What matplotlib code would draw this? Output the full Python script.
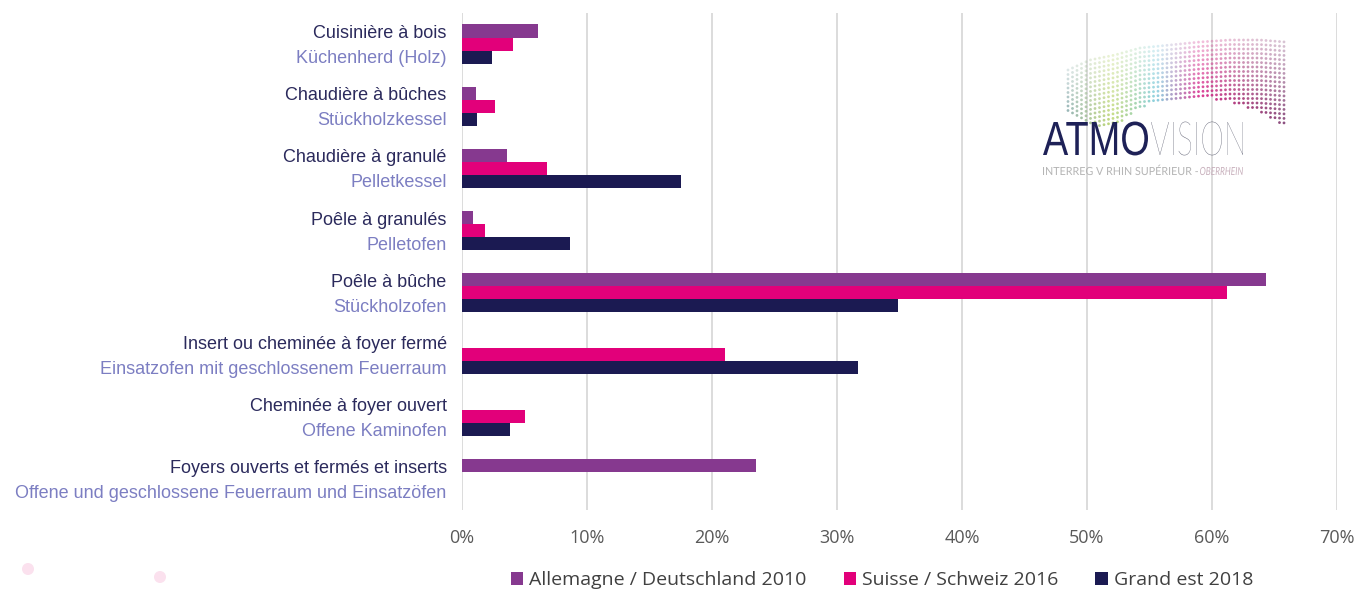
import numpy as np
import matplotlib
matplotlib.use("Agg")
import matplotlib.pyplot as plt
from matplotlib.colors import LinearSegmentedColormap
from matplotlib.textpath import TextPath
from matplotlib.patches import PathPatch, Circle
from matplotlib.font_manager import FontProperties
from matplotlib.transforms import Affine2D

# data
labels_fr = ["Cuisinière à bois", "Chaudière à bûches", "Chaudière à granulé",
             "Poêle à granulés", "Poêle à bûche",
             "Insert ou cheminée à foyer fermé", "Cheminée à foyer ouvert",
             "Foyers ouverts et fermés et inserts"]
labels_de = ["Küchenherd (Holz)", "Stückholzkessel", "Pelletkessel",
             "Pelletofen", "Stückholzofen",
             "Einsatzofen mit geschlossenem Feuerraum", "Offene Kaminofen",
             "Offene und geschlossene Feuerraum und Einsatzöfen"]
series_names = ["Allemagne / Deutschland 2010", "Suisse / Schweiz 2016", "Grand est 2018"]
allemagne = [6.1, 1.1, 3.6, 0.9, 64.3, 0.0, 0.0, 23.5]
suisse = [4.1, 2.6, 6.8, 1.8, 61.2, 21.0, 5.0, 0.0]
grand_est = [2.4, 1.2, 17.5, 8.6, 34.9, 31.7, 3.8, 0.0]
xticks = [0, 10, 20, 30, 40, 50, 60, 70]

colors = ["#86398F", "#E2007A", "#1B1A52"]
fr_color = "#2B2A5C"
de_color = "#7C7EC2"

W, H = 1372, 590
fig = plt.figure(figsize=(W / 100, H / 100), dpi=100)

ax = fig.add_axes([462 / W, 1 - 510 / H, 875 / W, (510 - 13) / H])
y = np.arange(len(labels_fr))
h = 0.21
for k, vals in enumerate([allemagne, suisse, grand_est]):
    ax.barh(y + (k - 1) * h, vals, height=h, color=colors[k],
            label=series_names[k], zorder=3)

ax.set_xlim(0, 70)
ax.set_ylim(len(labels_fr) - 0.5, -0.5)
ax.set_xticks(xticks)
ax.set_xticklabels([f"{t}%" for t in xticks], fontsize=13, color="#595959",
                   family="Open Sans")
ax.tick_params(axis="x", length=0, pad=14)
ax.set_yticks([])
ax.grid(axis="x", color="#D9D9D9", linewidth=1.3, zorder=0)
for s in ax.spines.values():
    s.set_visible(False)

for i in range(len(labels_fr)):
    ax.annotate(labels_fr[i], xy=(0, i), xycoords=("axes fraction", "data"),
                xytext=(-11, 7.5), textcoords="offset points", ha="right",
                va="center", fontsize=13, color=fr_color,
                family="Liberation Sans")
    ax.annotate(labels_de[i], xy=(0, i), xycoords=("axes fraction", "data"),
                xytext=(-11, -10.5), textcoords="offset points", ha="right",
                va="center", fontsize=13, color=de_color,
                family="Liberation Sans")

leg = fig.legend(loc="center", bbox_to_anchor=(882 / W, 1 - 580 / H), ncol=3,
                 frameon=False, handlelength=0.65, handleheight=0.65,
                 handletextpad=0.3, columnspacing=1.9,
                 prop={"family": "Open Sans", "size": 14})
for t in leg.get_texts():
    t.set_color("#404040")

# overlay in pixel coordinates for the logo and decorations
lax = fig.add_axes([0, 0, 1, 1], zorder=5)
lax.set_xlim(0, W)
lax.set_ylim(H, 0)
lax.axis("off")
lax.patch.set_alpha(0)

lax.add_patch(Circle((28, 569), 6, color="#FBE1EE", lw=0))
lax.add_patch(Circle((160, 577), 6, color="#FBE1EE", lw=0))

# dot cloud of the logo
cmap = LinearSegmentedColormap.from_list(
    "logo", ["#8FB0B0", "#B9D46A", "#7FCCDD", "#D9278A", "#A02E70", "#7E3F73"])
cx = [1068, 1090, 1115, 1140, 1170, 1200, 1230, 1260, 1285]
top_edge = [70, 60, 55, 48, 45, 42, 40, 40, 42]
bot_edge = [112, 125, 128, 108, 100, 98, 102, 112, 128]
for xx in np.arange(1068, 1288, 4.5):
    f = (xx - 1068) / 220
    t0 = np.interp(xx, cx, top_edge)
    b0 = np.interp(xx, cx, bot_edge)
    ys = np.arange(t0, b0, 4.5)
    if len(ys) == 0:
        continue
    rgba = np.array([cmap(f)] * len(ys))
    rgba[:, 3] = np.linspace(0.3, 0.9, len(ys))
    lax.scatter(np.full(len(ys), xx), ys, s=4, c=rgba, linewidths=0)


def logo_text(s, x0, x1, base, cap, color, family, weight="normal", style="normal"):
    prop = FontProperties(family=family, weight=weight, style=style)
    tp = TextPath((0, 0), s, size=1, prop=prop)
    capH = TextPath((0, 0), "H", size=1, prop=prop).get_extents().height
    bb = tp.get_extents()
    sx = (x1 - x0) / bb.width
    sy = cap / capH
    tr = Affine2D().translate(-bb.x0, 0).scale(sx, -sy).translate(x0, base)
    lax.add_patch(PathPatch(tr.transform_path(tp), facecolor=color, lw=0))


logo_text("ATMO", 1043, 1148, 155, 33, "#1E2157", "Liberation Sans")
logo_text("VISION", 1151, 1243, 155, 33, "#5C5E70", "Lato", weight="light")
logo_text("INTERREG V RHIN SUPÉRIEUR - ", 1043, 1198, 175, 8, "#B5B5B5", "Lato")
logo_text("OBERRHEIN", 1200, 1243, 175, 8, "#C8B0BC", "Lato", style="italic")

fig.savefig("out.png", dpi=100)
